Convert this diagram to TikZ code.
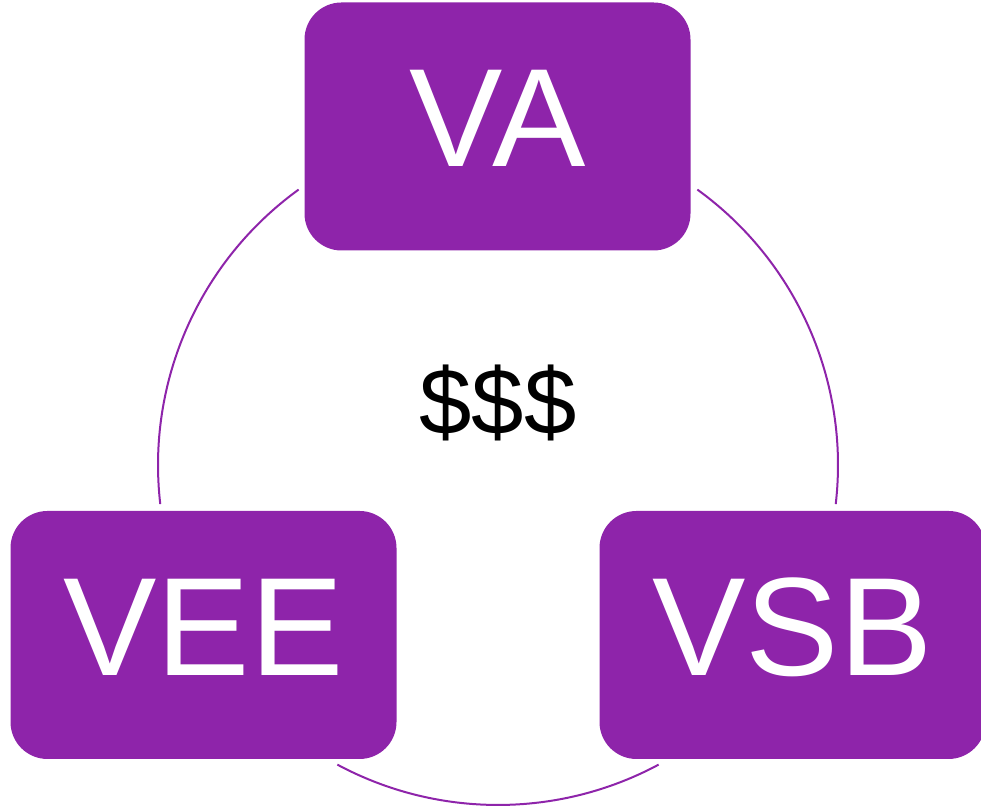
\documentclass[tikz,border=0pt]{standalone}
\usepackage{fontspec}
\setmainfont{Liberation Sans}
\definecolor{vpurple}{HTML}{8E24AA}
\tikzset{
	party/.style = {fill=vpurple, text=white, rounded corners=18.5pt,
		minimum width=193pt, minimum height=124pt, inner sep=0pt,
		text depth=8pt, font=\fontsize{70}{84}\selectfont},
	ring/.style = {draw=vpurple, line width=1pt}
}

\begin{document}
\begin{tikzpicture}[x=0.5pt, y=0.5pt]
	\useasboundingbox (0,0) rectangle (981,812);
	\coordinate (c) at (498,347);
		\node[party] (VA)  at (497.5,685.5) {VA};
		\node[party] (VEE) at (203.5,177)   {VEE};
		\node[party] (VSB) at (792.5,177)   {VSB};
		\node[font=\fontsize{47}{56}\selectfont] (money) at (498,409) {\$\$\$};
	% arcs of the ring between the boxes
	\foreach \a/\b in {54.1/-6.6, 125.9/186.6, 241.8/298.2}
		\draw[ring] ([shift={(\a:340)}]c) arc[start angle=\a, end angle=\b, radius=340];
\end{tikzpicture}
\end{document}
